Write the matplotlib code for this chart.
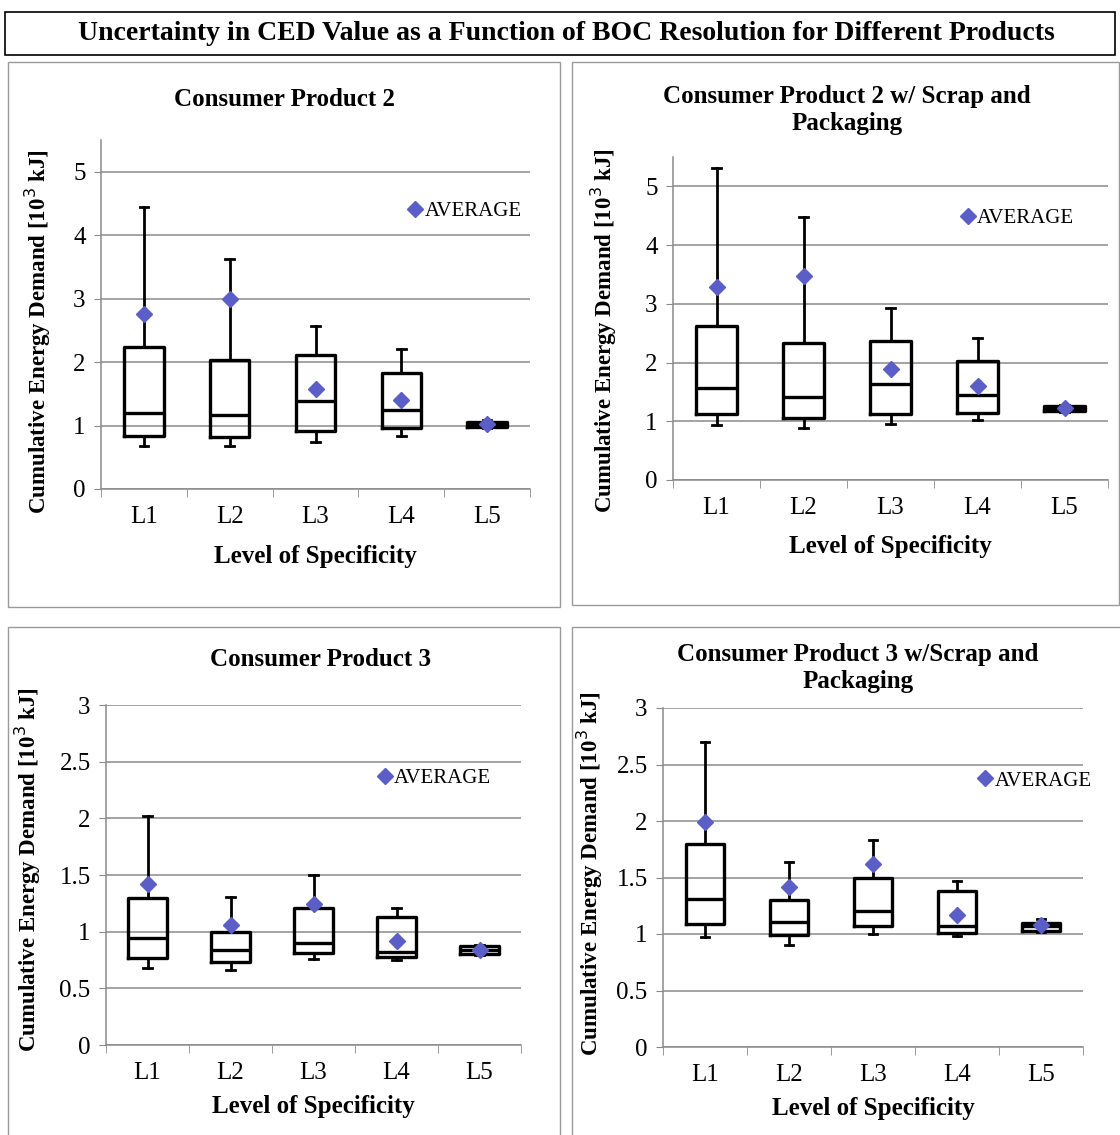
import matplotlib
matplotlib.use("Agg")
import matplotlib.pyplot as plt
from matplotlib.patches import Rectangle
from matplotlib.ticker import FixedLocator

plt.rcParams['font.family'] = ['Liberation Serif', 'DejaVu Serif']

W, H = 1120, 1135

levels = ["L1", "L2", "L3", "L4", "L5"]

# whisker low, Q1, median, Q3, whisker high, mean  (10^3 kJ)
cp2_low = [0.68, 0.68, 0.74, 0.84, 0.96]
cp2_q1 = [0.83, 0.82, 0.92, 0.96, 0.98]
cp2_med = [1.20, 1.16, 1.38, 1.25, 1.02]
cp2_q3 = [2.23, 2.03, 2.11, 1.83, 1.06]
cp2_high = [4.45, 3.63, 2.57, 2.21, 1.08]
cp2_mean = [2.76, 3.00, 1.58, 1.41, 1.02]

cp2s_low = [0.94, 0.88, 0.95, 1.03, 1.16]
cp2s_q1 = [1.12, 1.05, 1.13, 1.14, 1.17]
cp2s_med = [1.57, 1.42, 1.63, 1.44, 1.21]
cp2s_q3 = [2.62, 2.33, 2.37, 2.03, 1.26]
cp2s_high = [5.32, 4.47, 2.93, 2.42, 1.27]
cp2s_mean = [3.28, 3.47, 1.89, 1.60, 1.22]

cp3_low = [0.68, 0.66, 0.76, 0.75, 0.79]
cp3_q1 = [0.77, 0.73, 0.81, 0.78, 0.80]
cp3_med = [0.94, 0.84, 0.90, 0.82, 0.84]
cp3_q3 = [1.30, 1.00, 1.21, 1.13, 0.87]
cp3_high = [2.02, 1.31, 1.50, 1.21, 0.88]
cp3_mean = [1.42, 1.06, 1.24, 0.92, 0.84]

cp3s_low = [0.97, 0.90, 1.00, 0.98, 1.02]
cp3s_q1 = [1.09, 0.99, 1.07, 1.01, 1.03]
cp3s_med = [1.31, 1.11, 1.20, 1.07, 1.07]
cp3s_q3 = [1.80, 1.30, 1.50, 1.38, 1.10]
cp3s_high = [2.70, 1.64, 1.83, 1.47, 1.13]
cp3s_mean = [1.99, 1.42, 1.62, 1.17, 1.08]

panels = [
    dict(title="Consumer Product 2", data=(cp2_low, cp2_q1, cp2_med, cp2_q3, cp2_high, cp2_mean),
         ax=(101, 140, 530, 489), ylim=5.5, yt=[0, 1, 2, 3, 4, 5], ytl=["0", "1", "2", "3", "4", "5"],
         frame=(8, 62, 560, 607), tpos=(285, 100), ylpos=(38, 332), xlabel_y=556, leg=(0.699, 0.795)),
    dict(title="Consumer Product 2 w/ Scrap and\nPackaging",
         data=(cp2s_low, cp2s_q1, cp2s_med, cp2s_q3, cp2s_high, cp2s_mean),
         ax=(673, 157, 1108, 480), ylim=5.5, yt=[0, 1, 2, 3, 4, 5], ytl=["0", "1", "2", "3", "4", "5"],
         frame=(572, 62, 1119, 605), tpos=(847, 110), ylpos=(604, 331), xlabel_y=546, leg=(0.644, 0.81)),
    dict(title="Consumer Product 3", data=(cp3_low, cp3_q1, cp3_med, cp3_q3, cp3_high, cp3_mean),
         ax=(106, 705, 521, 1045), ylim=3, yt=[0, 0.5, 1, 1.5, 2, 2.5, 3],
         ytl=["0", "0.5", "1", "1.5", "2", "2.5", "3"],
         frame=(8, 627, 560, 1140), tpos=(320, 660), ylpos=(28, 870), xlabel_y=1107, leg=(0.636, 0.785)),
    dict(title="Consumer Product 3 w/Scrap and\nPackaging",
         data=(cp3s_low, cp3s_q1, cp3s_med, cp3s_q3, cp3s_high, cp3s_mean),
         ax=(663, 708, 1083, 1047), ylim=3, yt=[0, 0.5, 1, 1.5, 2, 2.5, 3],
         ytl=["0", "0.5", "1", "1.5", "2", "2.5", "3"],
         frame=(572, 627, 1122, 1140), tpos=(858, 668), ylpos=(590, 874), xlabel_y=1109, leg=(0.733, 0.785)),
]

fig = plt.figure(figsize=(W / 100, H / 100), dpi=100)


def fx(x):
    return x / W


def fy(y):
    return 1 - y / H


# outer title box
fig.patches.append(Rectangle((fx(5), fy(55)), fx(1110), 43 / H, transform=fig.transFigure,
                             fill=False, edgecolor="black", linewidth=1.2))
fig.text(fx(566), fy(33), "Uncertainty in CED Value as a Function of BOC Resolution for Different Products",
         ha="center", va="center", fontsize=20, fontweight="bold")

grid_c = "#8a8a8a"
mean_c = "#5b5ec6"

for p in panels:
    x0, y0, x1, y1 = p["frame"]
    fig.patches.append(Rectangle((fx(x0), fy(y1)), (x1 - x0) / W, (y1 - y0) / H,
                                 transform=fig.transFigure, fill=False,
                                 edgecolor="#9a9a9a", linewidth=1.0))

    l, t, r, b = p["ax"]
    ax = fig.add_axes([fx(l), fy(b), (r - l) / W, (b - t) / H])
    low, q1, med, q3, high, mean = p["data"]
    stats = []
    for i in range(len(levels)):
        stats.append(dict(whislo=low[i], q1=q1[i], med=med[i], q3=q3[i], whishi=high[i], fliers=[]))
    pos = list(range(1, len(levels) + 1))
    ax.bxp(stats, positions=pos, widths=0.46, showfliers=False, manage_ticks=False,
           boxprops=dict(color="black", linewidth=2.4),
           medianprops=dict(color="black", linewidth=2.4),
           whiskerprops=dict(color="black", linewidth=2.0),
           capprops=dict(color="black", linewidth=2.0), capwidths=0.1, zorder=3)
    ax.plot(pos, mean, linestyle="none", marker="D", markersize=8, color=mean_c,
            label="AVERAGE", zorder=4)

    ax.set_xlim(0.5, 5.5)
    ax.set_ylim(0, p["ylim"])
    ax.set_yticks(p["yt"])
    ax.set_yticklabels(p["ytl"], fontsize=18)
    ax.set_xticks(pos)
    ax.set_xticklabels(levels, fontsize=18)
    ax.xaxis.set_minor_locator(FixedLocator([0.5, 1.5, 2.5, 3.5, 4.5, 5.5]))
    ax.tick_params(axis="x", which="major", length=0, pad=12)
    ax.tick_params(axis="x", which="minor", length=6, color=grid_c, direction="out")
    ax.tick_params(axis="y", length=5, color=grid_c, pad=6)
    ax.grid(axis="y", color=grid_c, linewidth=1.1, zorder=0)
    ax.set_axisbelow(True)
    for s in ["top", "right"]:
        ax.spines[s].set_visible(False)
    for s in ["left", "bottom"]:
        ax.spines[s].set_color(grid_c)
        ax.spines[s].set_linewidth(1.1)

    ax.legend(loc="center left", bbox_to_anchor=p["leg"], frameon=False, fontsize=15,
              handlelength=0.6, handletextpad=0.15, borderaxespad=0)

    fig.text(fx(p["tpos"][0]), fy(p["tpos"][1]), p["title"], ha="center", va="center",
             fontsize=18, fontweight="bold", linespacing=1.2)
    fig.text(fx((l + r) / 2), fy(p["xlabel_y"]), "Level of Specificity", ha="center", va="center",
             fontsize=18, fontweight="bold")
    fig.text(fx(p["ylpos"][0]), fy(p["ylpos"][1]), "Cumulative Energy Demand [10$^3$ kJ]",
             ha="center", va="center", rotation=90, fontsize=16.5, fontweight="bold")

fig.savefig("out.png", dpi=100)
